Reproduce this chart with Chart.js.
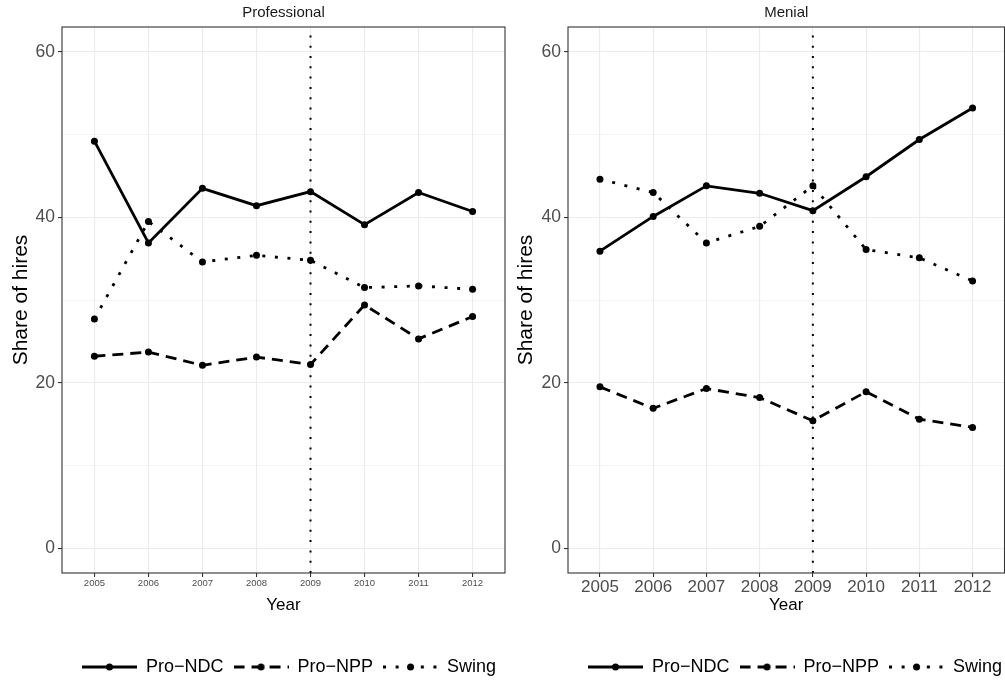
<!DOCTYPE html>
<html>
<head>
<meta charset="utf-8">
<script src="https://cdn.jsdelivr.net/npm/chart.js@4"></script>
<style>
  html, body { margin: 0; padding: 0; background: #fff; }
  #wrap { position: relative; width: 1005px; height: 681px; overflow: hidden; }
  canvas { position: absolute; top: 0; }
</style>
</head>
<body>
<div id="wrap">
  <canvas id="pro" width="506" height="681" style="left:0"></canvas>
  <canvas id="men" width="500" height="681" style="left:505px"></canvas>
</div>
<script>
const years = [2005, 2006, 2007, 2008, 2009, 2010, 2011, 2012];
const seriesNames = ['Pro\u2212NDC', 'Pro\u2212NPP', 'Swing'];

// Professional hires
const proNDC   = [49.2, 36.9, 43.5, 41.4, 43.1, 39.1, 43.0, 40.7];
const proNPP   = [23.2, 23.7, 22.1, 23.1, 22.2, 29.4, 25.3, 28.0];
const proSwing = [27.7, 39.5, 34.6, 35.4, 34.8, 31.5, 31.7, 31.3];

// Menial hires
const menNDC   = [35.9, 40.1, 43.8, 42.9, 40.8, 44.9, 49.4, 53.2];
const menNPP   = [19.5, 16.9, 19.3, 18.2, 15.4, 18.9, 15.6, 14.6];
const menSwing = [44.6, 43.0, 36.9, 38.9, 43.8, 36.1, 35.1, 32.3];

const cutoffYear = 2009;
const yTicks = [0, 10, 20, 30, 40, 50, 60];

const FONT = '"Liberation Sans", Arial, Helvetica, sans-serif';
const dashes = [[], [11, 7], [3, 9.6]];
const LW = 2.8;

function keyImage(dash) {
  const c = document.createElement('canvas');
  c.width = 55; c.height = 18;
  const g = c.getContext('2d');
  g.strokeStyle = '#000';
  g.lineWidth = LW;
  g.setLineDash(dash);
  g.beginPath();
  g.moveTo(0, 9); g.lineTo(55, 9);
  g.stroke();
  g.fillStyle = '#000';
  g.beginPath();
  g.arc(27.5, 9, 3.5, 0, Math.PI * 2);
  g.fill();
  return c;
}
const keys = dashes.map(keyImage);

const panelBorder = {
  id: 'panelBorder',
  afterDatasetsDraw(chart) {
    const a = chart.chartArea, ctx = chart.ctx;
    ctx.save();
    ctx.strokeStyle = '#333333';
    ctx.lineWidth = 1.1;
    ctx.strokeRect(a.left, a.top, a.right - a.left, a.bottom - a.top);
    ctx.restore();
  }
};

const legendPlace = {
  id: 'legendPlace',
  afterLayout(chart) {
    const lg = chart.legend;
    const w = lg.right - lg.left, h = lg.bottom - lg.top;
    lg.left = chart.chartArea.left + 10;
    lg.right = lg.left + w;
    lg.top = 648;
    lg.bottom = lg.top + h;
  }
};

function makePanel(id, title, ndc, npp, swing, yAxisWidth, padRight, xTickSize) {
  const pts = arr => years.map((y, i) => ({ x: y, y: arr[i] }));
  const line = (label, arr, i) => ({
    label: label,
    data: pts(arr),
    borderColor: '#000',
    backgroundColor: '#000',
    borderWidth: LW,
    borderDash: dashes[i],
    pointRadius: 3.5,
    pointBorderWidth: 0,
    pointBackgroundColor: '#000',
    pointHoverRadius: 3.5,
    tension: 0
  });
  new Chart(document.getElementById(id), {
    type: 'line',
    data: {
      datasets: [
        line(seriesNames[0], ndc, 0),
        line(seriesNames[1], npp, 1),
        line(seriesNames[2], swing, 2),
        {
          label: 'cutoff',
          data: [{ x: cutoffYear, y: -3 }, { x: cutoffYear, y: 63 }],
          borderColor: '#000',
          borderWidth: 2,
          borderDash: [2, 8.3],
          pointRadius: 0
        }
      ]
    },
    options: {
      responsive: false,
      animation: false,
      events: [],
      layout: { autoPadding: false, padding: { left: 0, right: padRight, top: 0, bottom: 0 } },
      plugins: {
        tooltip: { enabled: false },
        title: {
          display: true,
          text: title,
          fullSize: false,
          color: '#1a1a1a',
          font: { family: FONT, size: 15, weight: 'normal' },
          padding: { top: 4, bottom: 5 }
        },
        legend: {
          position: 'bottom',
          align: 'start',
          labels: {
            usePointStyle: true,
            pointStyleWidth: 55,
            boxHeight: 18,
            padding: 10,
            color: '#000',
            font: { family: FONT, size: 18 },
            generateLabels: () => seriesNames.map((name, i) => ({
              text: name,
              pointStyle: keys[i],
              fillStyle: '#000',
              strokeStyle: '#000',
              lineWidth: 0,
              hidden: false,
              datasetIndex: i,
              fontColor: '#000'
            }))
          }
        }
      },
      scales: {
        x: {
          type: 'linear',
          min: 2004.4,
          max: 2012.6,
          afterBuildTicks: s => { s.ticks = years.map(v => ({ value: v })); },
          afterFit: s => { s.height = 70; s.paddingLeft = 0; s.paddingRight = 0; },
          border: { display: false },
          grid: { color: '#ebebeb', lineWidth: 1.1, tickColor: '#333333', tickLength: 4, tickWidth: 1.1 },
          ticks: {
            color: '#4d4d4d',
            padding: xTickSize < 12 ? 1 : 0,
            maxRotation: 0,
            font: { family: FONT, size: xTickSize },
            callback: v => String(v)
          },
          title: {
            display: true,
            text: 'Year',
            color: '#000',
            font: { family: FONT, size: 17 },
            padding: { top: 0, bottom: 27 }
          }
        },
        y: {
          type: 'linear',
          min: -3,
          max: 63,
          afterBuildTicks: s => { s.ticks = yTicks.map(v => ({ value: v })); },
          afterFit: s => { s.width = yAxisWidth; s.paddingTop = 0; s.paddingBottom = 0; },
          border: { display: false },
          grid: {
            color: '#ebebeb',
            lineWidth: c => (c.tick && c.tick.value % 20 === 0 ? 1.1 : 0.55),
            tickColor: c => (c.tick && c.tick.value % 20 === 0 ? '#333333' : 'rgba(0,0,0,0)'),
            tickLength: 4,
            tickWidth: 1.1
          },
          ticks: {
            color: '#4d4d4d',
            padding: 3,
            font: { family: FONT, size: 17.5 },
            callback: v => (v % 20 === 0 ? String(v) : '')
          },
          title: {
            display: true,
            text: 'Share of hires',
            color: '#000',
            font: { family: FONT, size: 21 },
            padding: { top: 9, bottom: 0 }
          }
        }
      }
    },
    plugins: [panelBorder, legendPlace]
  });
}

makePanel('pro', 'Professional', proNDC, proNPP, proSwing, 62, 1, 9.5);
makePanel('men', 'Menial', menNDC, menNPP, menSwing, 63, 0.5, 17);
</script>
</body>
</html>
